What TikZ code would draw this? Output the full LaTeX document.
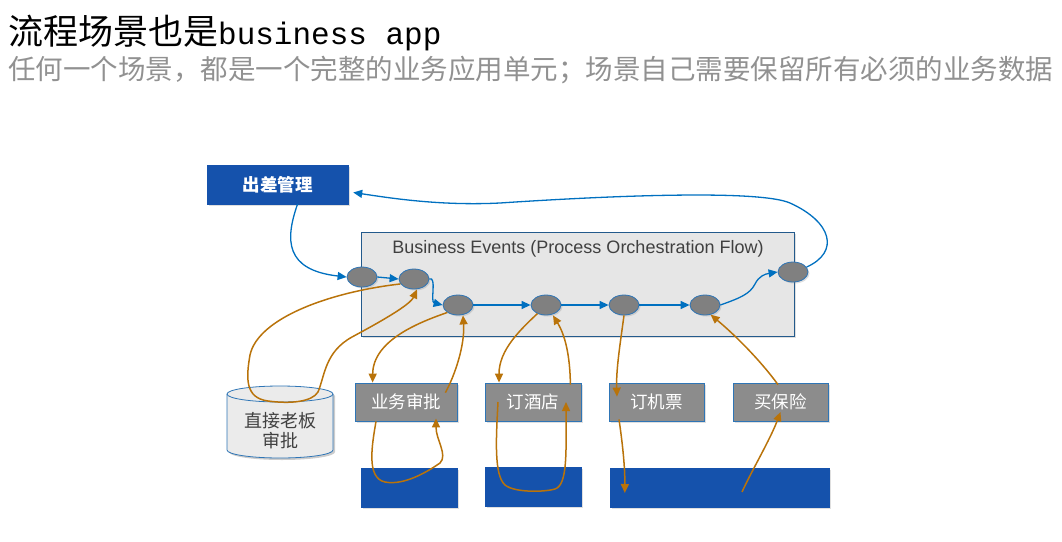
\documentclass[tikz,border=0pt]{standalone}
\usepackage{fontspec}
\setmainfont{Liberation Sans}
\newfontfamily\cjk{Noto Sans CJK SC}
\newfontfamily\titlemono{Liberation Mono}
\usepackage{tikz}
\usetikzlibrary{arrows.meta,shapes.geometric,shadows}
\definecolor{bizblue}{RGB}{21,82,172}
\definecolor{edgeblue}{RGB}{46,117,182}
\definecolor{flowblue}{RGB}{0,112,192}
\definecolor{callorange}{RGB}{185,115,10}
\definecolor{evgray}{RGB}{128,128,128}
\definecolor{boxgray}{RGB}{140,140,140}
\definecolor{panelgray}{RGB}{230,230,230}
\definecolor{paneledge}{RGB}{35,90,140}
\definecolor{subgray}{RGB}{145,145,145}
\definecolor{darktext}{RGB}{64,64,64}
\tikzset{
  shade/.style={drop shadow={opacity=0.25,shadow xshift=1.5pt,shadow yshift=-1.5pt}},
  bluebox/.style={rectangle,fill=bizblue,draw=bizblue,inner sep=0,shade},
  graybox/.style={rectangle,fill=boxgray,draw=edgeblue,line width=0.8pt,inner sep=0,
    minimum height=38,text=white,font=\cjk\fontsize{17.5}{18}\selectfont,shade},
  ev/.style={ellipse,fill=evgray,draw=edgeblue,line width=0.8pt,minimum width=30,minimum height=20,inner sep=0,shade},
  flow/.style={->,flowblue,line width=1.3pt},
  call/.style={->,callorange,line width=1.5pt}
}

\begin{document}
\begin{tikzpicture}[x=1pt,y=-1pt,>={Triangle[length=9pt,width=8pt]}]
  \useasboundingbox (0,0) rectangle (1062,541);
  % heading
  \node[anchor=base west,inner sep=0,font=\cjk\fontsize{35}{35}\selectfont] (title) at (8,44)
    {流程场景也是{\titlemono\fontsize{31}{31}\selectfont business app}};
  \node[anchor=base west,inner sep=0,text=subgray,font=\cjk\fontsize{27.5}{28}\selectfont] (subtitle) at (8,79)
    {任何一个场景，都是一个完整的业务应用单元；场景自己需要保留所有必须的业务数据};
  % process panel
  \node[bluebox,minimum width=141,minimum height=39,text=white,font=\cjk\bfseries\fontsize{17.5}{18}\selectfont] (trip) at (277.5,184.5) {出差管理};
  \node[rectangle,fill=panelgray,draw=paneledge,line width=0.9pt,minimum width=433,minimum height=104,inner sep=0,shade] (panel) at (577.5,284) {};
  \node[text=darktext,font=\fontsize{18}{18}\selectfont] (paneltitle) at (578,249) {Business Events (Process Orchestration Flow)};
  \foreach \n/\x/\y in {e1/362/277,e2/414/279,e3/458/305,e4/546/305,e5/624/305,e6/705/305,e7/793/272}
    \node[ev] (\n) at (\x,\y) {};
  % services
  \foreach \n/\x/\w/\t in {approve/406/102/业务审批,hotel/533/96/订酒店,ticket/656.5/95/订机票,insure/780.5/95/买保险}
    \node[graybox,minimum width=\w] (\n) at (\x,402) {\t};
  % boss approval store
  \fill[black,opacity=0.2] (229,396) -- (229,452) arc[start angle=180,end angle=0,x radius=53,y radius=8]
    -- (335,396) arc[start angle=0,end angle=-180,x radius=53,y radius=8] -- cycle;
  \draw[fill=panelgray!80!white,draw=edgeblue,line width=0.8pt] (227,394) -- (227,450) arc[start angle=180,end angle=0,x radius=53,y radius=8]
    -- (333,394) arc[start angle=0,end angle=-180,x radius=53,y radius=8] -- cycle;
  \draw[edgeblue,line width=0.8pt] (227,394) arc[start angle=180,end angle=0,x radius=53,y radius=8];
  \node[text=darktext,align=center,font=\cjk\fontsize{18}{20}\selectfont] (boss) at (280,431) {直接老板\\审批};
  \foreach \n/\x/\y/\w in {db1/409/487.5/96,db2/533/486.5/96,db3/719.5/487.5/219}
    \node[bluebox,minimum width=\w,minimum height=39] (\n) at (\x,\y) {};
  % blue event flow
  \draw[flow] ([xshift=20pt]trip.south) .. controls (285,240) and (285,270) .. (e1.west);
  \draw[flow] (e1.east) -- (e2.west);
  \draw[flow] (e2.east) .. controls (437,276) and (430,302) .. (e3.west);
  \draw[flow] (e3.east) -- (e4.west);
  \draw[flow] (e4.east) -- (e5.west);
  \draw[flow] (e5.east) -- (e6.west);
  \draw[flow] (e6.east) .. controls (740,298) and (750,294) .. (755,284) .. controls (759,276) and (765,274) .. (e7.west);
  \draw[flow] (e7.20) .. controls (840,252) and (832,222) .. (790,203) .. controls (760,190) and (620,195) .. (500,203)
    .. controls (440,206) and (390,198) .. ([xshift=5pt,yshift=-8pt]trip.east);
  % orange service calls
  \draw[call] (e2.200) .. controls (330,292) and (258,318) .. (250,355) .. controls (246,378) and (245,398) .. (268,401)
    .. controls (290,404) and (312,402) .. (318,392) .. controls (325,375) and (325,352) .. (352,337)
    .. controls (380,322) and (410,305) .. ([xshift=3pt]e2.south);
  \draw[call] (e3.215) .. controls (420,322) and (373,340) .. ([xshift=18pt]approve.north west);
  \draw[call] ([xshift=-12pt,yshift=-10pt]approve.north east) .. controls (455,375) and (465,345) .. ([xshift=5pt]e3.south);
  \draw[call] ([xshift=-30pt]approve.south) .. controls (372,445) and (366,478) .. (385,482) .. controls (405,486) and (430,470) .. (440,463)
    .. controls (448,455) and (436,440) .. ([xshift=30pt,yshift=3pt]approve.south);
  \draw[call] (e4.225) .. controls (520,330) and (499,350) .. ([xshift=-34pt]hotel.north);
  \draw[call] ([xshift=-11pt,yshift=-2pt]hotel.north east) .. controls (570,355) and (565,335) .. ([xshift=7pt]e4.south);
  \draw[call] ([xshift=-35pt]hotel.center) .. controls (496,440) and (494,475) .. (505,485) .. controls (515,493) and (545,492) .. (555,489)
    .. controls (568,485) and (566,450) .. ([xshift=33pt]hotel.center);
  \draw[call] (e5.south) .. controls (620,345) and (616,370) .. ([xshift=-39.5pt,yshift=-14pt]ticket.north);
  \draw[call] ([xshift=-37.5pt,yshift=2pt]ticket.south) .. controls (622,440) and (625,465) .. ([xshift=15pt,yshift=-5.5pt]db3.west);
  \draw[call] ([xshift=22.5pt,yshift=-4.5pt]db3.center) .. controls (752,470) and (770,440) .. ([yshift=-10pt]insure.center);
  \draw[call] ([xshift=-2.5pt,yshift=-2pt]insure.north) .. controls (760,360) and (735,335) .. (e6.300);
\end{tikzpicture}
\end{document}
